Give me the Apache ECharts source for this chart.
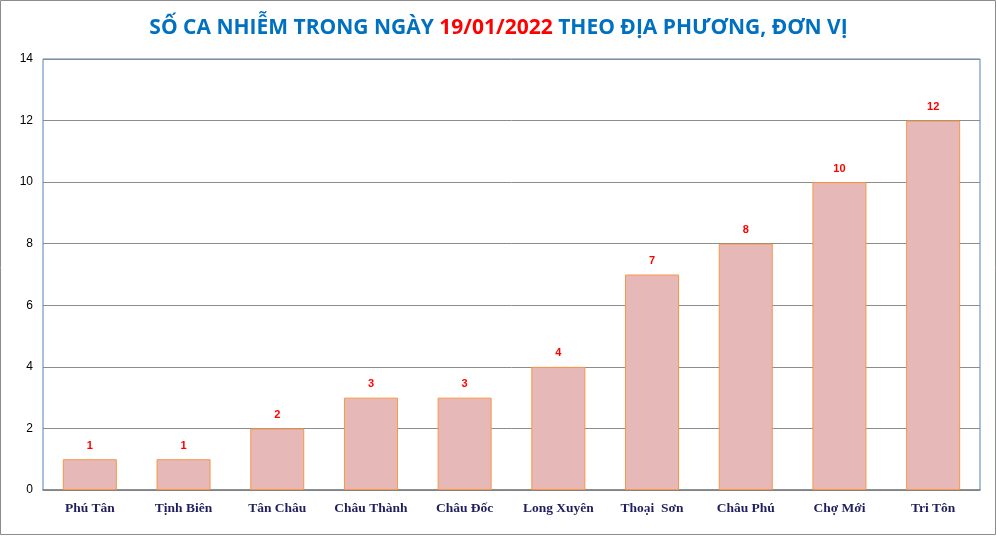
<!DOCTYPE html>
<html><head><meta charset="utf-8">
<script src="https://cdn.jsdelivr.net/npm/echarts@6/dist/echarts.min.js"></script>
<style>html,body{margin:0;padding:0;background:#fff}#c{width:997px;height:536px}</style>
</head><body><div id="c"></div>
<script>
const categories = ['Phú Tân','Tịnh Biên','Tân Châu','Châu Thành','Châu Đốc','Long Xuyên','Thoại  Sơn','Châu Phú','Chợ Mới','Tri Tôn'];
const values = [1,1,2,3,3,4,7,8,10,12];
const yTicks = [0,2,4,6,8,10,12,14];

const chart = echarts.init(document.getElementById('c'));
chart.setOption({
  animation:false,
  backgroundColor:'#fff',
  title:{
    text:'{b|SỐ CA NHIỄM TRONG NGÀY }{r|19/01/2022}{b| THEO ĐỊA PHƯƠNG, ĐƠN VỊ}',
    left:'center', top:13,
    textStyle:{rich:{
      b:{color:'#0070C0',fontSize:21,fontWeight:'bold',fontFamily:'Open Sans'},
      r:{color:'#FF0000',fontSize:21,fontWeight:'bold',fontFamily:'Open Sans'}
    }}
  },
  graphic:[{type:'rect',shape:{x:0.5,y:0.5,width:995,height:534},style:{fill:'none',stroke:'#8c8c8c',lineWidth:1},silent:true}],
  grid:{left:43,right:17,top:59,bottom:46,show:true,borderColor:'#4F81BD',borderWidth:1},
  xAxis:{type:'category',data:categories,
    axisLine:{lineStyle:{color:'#808080',width:1.5}},
    axisTick:{show:false},
    axisLabel:{color:'#1F1F5F',fontFamily:'Liberation Serif',fontWeight:'bold',fontSize:13.5,margin:12,interval:0}
  },
  yAxis:{type:'value',min:yTicks[0],max:yTicks[yTicks.length-1],interval:2,
    axisLine:{show:false},axisTick:{show:false},
    splitLine:{lineStyle:{color:'#8c8c8c',width:1}},
    axisLabel:{color:'#000',fontFamily:'Liberation Sans',fontSize:12,margin:10}
  },
  series:[{type:'bar',data:values,barWidth:54,
    itemStyle:{color:'#E6B9B8',borderColor:'#F79646',borderWidth:1},
    label:{show:true,position:'top',distance:8,color:'#FF0000',fontWeight:'bold',fontSize:11,fontFamily:'Liberation Sans'}
  }]
});
</script></body></html>
